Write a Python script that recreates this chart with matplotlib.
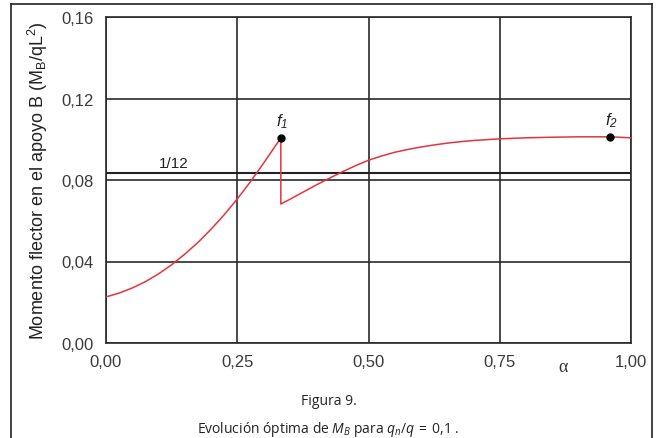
import numpy as np
import matplotlib.pyplot as plt
from matplotlib.lines import Line2D

plt.rcParams["font.family"] = ["Liberation Sans", "DejaVu Sans"]
plt.rcParams["mathtext.fontset"] = "custom"
plt.rcParams["mathtext.rm"] = "Open Sans"
plt.rcParams["mathtext.it"] = "Open Sans:italic"

## data
# first branch, up to f1
alpha1 = [0.0, 0.025, 0.05, 0.075, 0.10, 0.125, 0.15, 0.175, 0.20, 0.225, 0.25,
          0.275, 0.30, 0.333]
mb1 = [0.0226, 0.0245, 0.0270, 0.0301, 0.0339, 0.0384, 0.0436, 0.0493, 0.0558,
       0.0629, 0.0707, 0.0791, 0.0882, 0.1006]
# second branch, after the jump
alpha2 = [0.333, 0.35, 0.375, 0.40, 0.425, 0.45, 0.475, 0.50, 0.525, 0.55, 0.575,
          0.60, 0.625, 0.65, 0.675, 0.70, 0.75, 0.80, 0.85, 0.90, 0.96, 1.00]
mb2 = [0.0682, 0.0705, 0.0740, 0.0775, 0.0808, 0.0840, 0.0870, 0.0897, 0.0918,
       0.0936, 0.0950, 0.0962, 0.0972, 0.0981, 0.0988, 0.0994, 0.1002, 0.1007,
       0.1010, 0.1012, 0.1012, 0.1007]

f_alpha = [0.333, 0.96]
f_mb = [0.1006, 0.1012]
f_names = ["1", "2"]

xticks = [0.0, 0.25, 0.5, 0.75, 1.0]
xticklabels = ["0,00", "0,25", "0,50", "0,75", "1,00"]
yticks = [0.0, 0.04, 0.08, 0.12, 0.16]
yticklabels = ["0,00", "0,04", "0,08", "0,12", "0,16"]
ref_value = 1 / 12

## plot
fig = plt.figure(figsize=(6.57, 4.39), dpi=100)
ax = fig.add_axes([106 / 657, 1 - 344 / 439, 525 / 657, 326 / 439])

ax.set_xlim(0, 1)
ax.set_ylim(0, 0.16)
ax.set_xticks(xticks)
ax.set_xticklabels(xticklabels)
ax.set_yticks(yticks)
ax.set_yticklabels(yticklabels)
ax.tick_params(length=0, labelsize=12, colors="#3a3a3a", pad=8)
ax.tick_params(axis="y", pad=9)
ax.grid(True, color="#2a2a2a", lw=1.2)
for s in ax.spines.values():
    s.set_color("#2a2a2a")
    s.set_linewidth(1.2)

ax.axhline(ref_value, color="#222222", lw=1.5)
ax.text(0.13, ref_value + 0.0015, "1/12", ha="center", va="bottom", fontsize=11, color="#222222")

alpha = alpha1 + alpha2
mb = mb1 + mb2
ax.plot(alpha, mb, color="#e8323c", lw=1.1, zorder=3)
ax.plot(f_alpha, f_mb, "o", color="black", ms=5, zorder=4)
for a, m, n in zip(f_alpha, f_mb, f_names):
    ax.text(a + 0.002, m + 0.004, r"$\mathregular{f_%s}$" % n, style="italic",
            ha="center", va="bottom", fontsize=12, color="#222222")

ax.set_ylabel(r"Momento flector en el apoyo B (M$\mathregular{_B}$/qL$\mathregular{^2}$)",
              fontsize=13, color="#222222", labelpad=8)
ax.text(0.87, -0.085, "α", transform=ax.transAxes, ha="center",
        fontsize=13, color="#333333", family="Liberation Serif")

# frame around the figure
for xs, ys in [([11, 11], [5, 439]), ([11, 652], [5, 5]), ([652, 652], [5, 439])]:
    fig.add_artist(Line2D([x / 657 for x in xs], [1 - y / 439 for y in ys],
                          transform=fig.transFigure, color="#222222", lw=1.2))

fig.text(0.5, 1 - 402 / 439, "Figura 9.", ha="center", va="center",
         fontsize=10, family="Open Sans", color="#222222")
fig.text(0.5, 1 - 430 / 439,
         r"Evolución óptima de $\mathit{M_B}$ para $\mathit{q_n/q\:=\:0{,}1}$ .",
         ha="center", va="center", fontsize=10, family="Open Sans", color="#222222")

fig.savefig("out.png", dpi=100)
